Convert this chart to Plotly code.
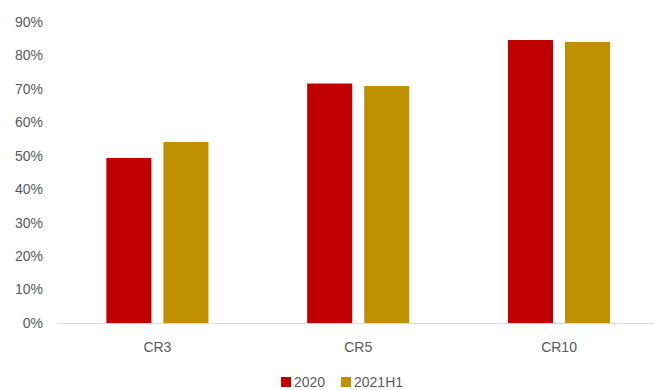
import plotly.graph_objects as go

categories = ["CR3", "CR5", "CR10"]
series_2020 = [0.493, 0.716, 0.846]
series_2021h1 = [0.541, 0.709, 0.840]
y_ticks = [0, 0.1, 0.2, 0.3, 0.4, 0.5, 0.6, 0.7, 0.8, 0.9]

series_names = ["2020", "2021H1"]
series_colors = ["#C00000", "#BF9000"]

font_family = "Liberation Sans, Arial, sans-serif"
grey = "#595959"
font_size = 14

W, H = 654, 390
M_L, M_R, M_T, M_B = 57, 0, 22, 67
plot_w = W - M_L - M_R
plot_h = H - M_T - M_B


def px_to_paper_x(px):
    return (px - M_L) / plot_w


def px_to_paper_y(py):
    return (H - M_B - py) / plot_h


fig = go.Figure()
for name, vals, col in zip(series_names, [series_2020, series_2021h1], series_colors):
    fig.add_trace(go.Bar(name=name, x=categories, y=vals,
                         marker=dict(color=col, line=dict(width=0)),
                         showlegend=False))

# Compact legend below the plot: small colour keys followed by labels
legend_items = [(281, series_names[0], series_colors[0]),
                (341, series_names[1], series_colors[1])]
key_size = 10
legend_mid_y = 382
for left_px, label, col in legend_items:
    fig.add_shape(type="rect", xref="paper", yref="paper",
                  x0=px_to_paper_x(left_px), x1=px_to_paper_x(left_px + key_size),
                  y0=px_to_paper_y(legend_mid_y + key_size / 2),
                  y1=px_to_paper_y(legend_mid_y - key_size / 2),
                  fillcolor=col, line=dict(width=0))
    fig.add_annotation(xref="paper", yref="paper",
                       x=px_to_paper_x(left_px + key_size + 1),
                       y=px_to_paper_y(legend_mid_y),
                       xanchor="left", yanchor="middle", showarrow=False,
                       text=label, font=dict(size=font_size, color=grey))

fig.update_layout(
    width=W, height=H,
    margin=dict(l=M_L, r=M_R, t=M_T, b=M_B),
    paper_bgcolor="white", plot_bgcolor="white",
    barmode="group", bargap=0.432, bargroupgap=0.21,
    font=dict(family=font_family, size=font_size, color=grey),
    showlegend=False,
    xaxis=dict(range=[-0.5, 2.473], showline=True, linecolor="#D9D9D9",
               linewidth=1, showgrid=False, ticks="", ticklabelstandoff=11,
               tickfont=dict(size=font_size, color=grey), fixedrange=True),
    yaxis=dict(range=[0, 0.9], tickvals=y_ticks, tickformat=".0%",
               showgrid=False, zeroline=False, showline=False, ticks="",
               ticklabelstandoff=13, tickfont=dict(size=font_size, color=grey),
               fixedrange=True),
)

fig.write_html("out.html", config={"displayModeBar": False})
